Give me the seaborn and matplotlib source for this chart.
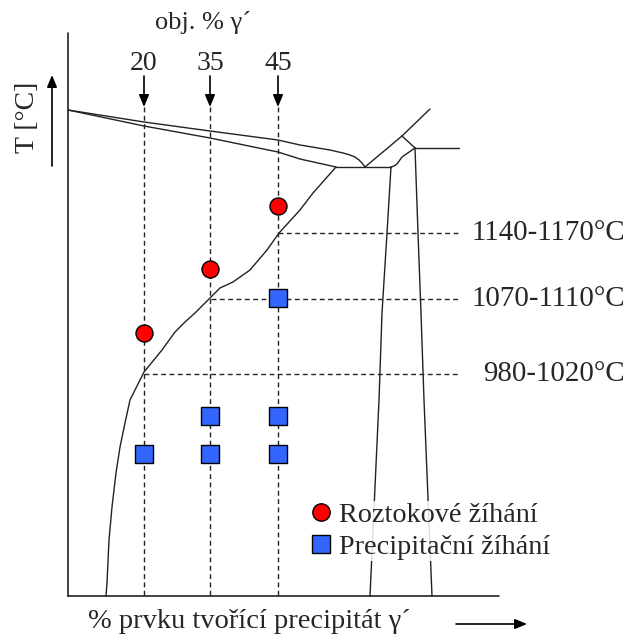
import matplotlib
matplotlib.use("Agg")
import matplotlib.pyplot as plt
from matplotlib.lines import Line2D
import seaborn as sns
import pandas as pd

sns.set_theme(style="white")
plt.rcParams['font.family'] = ['Liberation Serif', 'DejaVu Serif']

# schematic phase diagram, units = drawing coordinates (y grows downward = colder)
liq_x = [68, 144, 210, 278, 300, 330, 343, 350, 355, 359, 362, 365]
liq_y = [110, 122, 131, 140, 145, 150, 153, 155, 157, 160, 163, 167]
sol_x = [68, 144, 210, 278, 300, 336]
sol_y = [110, 126, 138, 152, 159, 167]
solvus_x = [336, 313, 300, 279, 267, 250, 233, 220, 210, 195, 185, 175, 162,
            144, 135, 130, 125, 120, 116, 112, 109, 107, 106]
solvus_y = [167, 193, 210, 233, 250, 270, 282, 288, 298, 313, 322, 332, 350,
            372, 390, 400, 423, 447, 473, 507, 540, 583, 596]

gp_left_x = [391, 387, 382, 379, 370]
gp_left_y = [167, 233, 313, 400, 596]
gp_right_x = [415, 418, 421, 424, 432]
gp_right_y = [148, 233, 313, 400, 596]
eut_x = [336, 391]
eut_y = [167, 167]
gp_top_x = [391, 394, 397, 402, 415]
gp_top_y = [167, 166, 164, 157, 148]
per_x = [365, 402, 430]
per_y = [167, 136, 109]
per2_x = [402, 415]
per2_y = [136, 148]
top_x = [415, 459]
top_y = [148, 148]

# compositions (obj. % gamma') and their positions
comp_labels = ["20", "35", "45"]
comp_x = [144, 210, 278]

# heat treatment temperatures
temp_labels = ["1140-1170°C", "1070-1110°C", "980-1020°C"]
temp_y = [233, 299, 374]
temp_start = [278, 211, 144]

# annealing points
circ_x = [144, 210, 278]
circ_y = [333, 269, 206]
sq_x = [278, 210, 278, 144, 210, 278]
sq_y = [298, 416, 416, 454, 454, 454]

lab_sol = "Roztokové žíhání"
lab_prec = "Precipitační žíhání"

fig = plt.figure(figsize=(6.27, 6.39), dpi=100)
ax = fig.add_axes([0, 0, 1, 1])
ax.set_xlim(0, 627)
ax.set_ylim(639, 0)
ax.axis('off')

lc = '#222222'
lw = 1.0
# axes of the diagram
ax.plot([68, 68], [33, 596], color=lc, lw=1.2)
ax.plot([68, 499], [596, 596], color=lc, lw=1.2)

for xs, ys in [(liq_x, liq_y), (sol_x, sol_y), (solvus_x, solvus_y),
               (gp_left_x, gp_left_y), (gp_right_x, gp_right_y),
               (eut_x, eut_y), (gp_top_x, gp_top_y), (per_x, per_y),
               (per2_x, per2_y), (top_x, top_y)]:
    sns.lineplot(x=xs, y=ys, ax=ax, color=lc, lw=lw, sort=False,
                 estimator=None)

dash = (0, (3.5, 2.5))
for lab, x in zip(comp_labels, comp_x):
    ax.plot([x, x], [107, 596], color=lc, lw=lw, linestyle=dash)
    ax.annotate("", xy=(x, 107), xytext=(x, 76),
                arrowprops=dict(arrowstyle='-|>,head_length=0.6,head_width=0.25',
                                color='black', lw=1.2, shrinkA=0, shrinkB=0))
    ax.text(x, 63, lab, ha='center', va='center', fontsize=20)

for lab, y, x0 in zip(temp_labels, temp_y, temp_start):
    ax.plot([x0, 459], [y, y], color=lc, lw=lw, linestyle=dash)
    ax.text(625, y, lab, ha='right', va='center', fontsize=20.8)

pts = pd.DataFrame({
    'x': circ_x + sq_x,
    'y': circ_y + sq_y,
    'typ': [lab_sol] * len(circ_x) + [lab_prec] * len(sq_x),
})
red = '#ff0000'
blue = '#3366ff'
sns.scatterplot(data=pts[pts.typ == lab_sol], x='x', y='y', ax=ax, marker='o',
                color=red, s=150, edgecolor='black', linewidth=1.0, zorder=5,
                legend=False)
sns.scatterplot(data=pts[pts.typ == lab_prec], x='x', y='y', ax=ax, marker='s',
                color=blue, s=175, edgecolor='black', linewidth=1.0, zorder=5,
                legend=False)

handles = [
    Line2D([], [], marker='o', linestyle='none', markersize=12.5,
           markerfacecolor=red, markeredgecolor='black', label=lab_sol),
    Line2D([], [], marker='s', linestyle='none', markersize=12.5,
           markerfacecolor=blue, markeredgecolor='black', label=lab_prec),
]
leg = ax.legend(handles=handles, loc='upper left', bbox_to_anchor=(0.492, 0.216),
                bbox_transform=fig.transFigure, frameon=True, fontsize=20.3,
                handlelength=0.8, handletextpad=0.25, borderpad=0.05,
                borderaxespad=0, labelspacing=0.22, fancybox=False)
leg.get_frame().set_facecolor('white')
leg.get_frame().set_edgecolor('none')
leg.get_frame().set_alpha(0.85)

# titles / labels
ax.text(203, 23, "obj. % γ´", ha='center', va='center', fontsize=19)
ax.text(28, 117, "T [°C]", ha='center', va='center', fontsize=20, rotation=90)
ax.annotate("", xy=(52, 75), xytext=(52, 166),
            arrowprops=dict(arrowstyle='-|>,head_length=0.6,head_width=0.25',
                            color='black', lw=1.2, shrinkA=0, shrinkB=0))
ax.text(88, 621, "% prvku tvořící precipitát γ´", ha='left', va='center',
        fontsize=20.5)
ax.annotate("", xy=(527, 624), xytext=(456, 624),
            arrowprops=dict(arrowstyle='-|>,head_length=0.6,head_width=0.25',
                            color='black', lw=1.2, shrinkA=0, shrinkB=0))

fig.savefig("out.png", dpi=100)
